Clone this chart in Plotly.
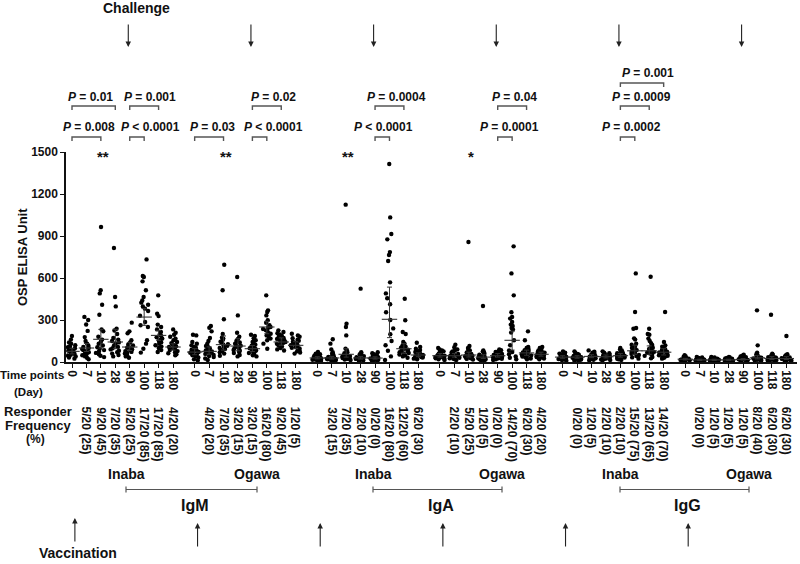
import plotly.graph_objects as go
import numpy as np

# ---------------- data ----------------
days = ["0", "7", "10", "28", "90", "100", "118", "180"]
panels = ["IgM Inaba", "IgM Ogawa", "IgA Inaba", "IgA Ogawa", "IgG Inaba", "IgG Ogawa"]

igm_inaba = [
    [186, 160, 140, 130, 120, 112, 105, 98, 92, 86, 80, 75, 70, 64, 58, 52, 46, 40, 32, 24],
    [322, 300, 268, 222, 178, 150, 130, 118, 108, 100, 92, 85, 78, 70, 62, 55, 48, 40, 30, 20],
    [964, 512, 490, 409, 338, 232, 220, 180, 160, 145, 130, 118, 105, 95, 85, 75, 65, 55, 45, 35],
    [814, 464, 397, 238, 225, 200, 171, 160, 150, 140, 130, 118, 108, 98, 90, 80, 70, 60, 50, 40],
    [281, 219, 205, 155, 140, 125, 118, 110, 102, 96, 90, 84, 78, 72, 66, 60, 54, 48, 40, 30],
    [733, 614, 607, 576, 512, 464, 440, 424, 409, 397, 381, 364, 330, 286, 262, 250, 155, 131, 95, 67],
    [476, 345, 328, 267, 250, 233, 214, 195, 186, 176, 167, 158, 150, 140, 130, 120, 110, 100, 85, 71],
    [233, 209, 195, 180, 167, 155, 143, 135, 128, 120, 113, 107, 100, 93, 86, 78, 70, 62, 55, 48],
]
igm_ogawa = [
    [195, 190, 143, 130, 119, 110, 102, 95, 88, 82, 76, 71, 66, 60, 54, 48, 40, 32, 19, 12],
    [257, 245, 219, 171, 150, 130, 115, 105, 96, 88, 82, 76, 70, 64, 58, 50, 42, 35, 25, 15],
    [695, 512, 305, 200, 175, 167, 155, 145, 136, 128, 124, 116, 108, 100, 92, 85, 78, 70, 60, 45],
    [607, 333, 209, 180, 165, 150, 140, 130, 122, 116, 110, 104, 98, 92, 86, 80, 72, 64, 50, 40],
    [195, 186, 170, 155, 143, 132, 124, 117, 110, 104, 98, 93, 88, 82, 76, 70, 64, 57, 48, 40],
    [476, 369, 357, 333, 298, 280, 262, 250, 243, 236, 226, 214, 206, 202, 190, 180, 167, 155, 131, 95],
    [226, 214, 205, 196, 188, 180, 172, 165, 159, 155, 148, 142, 136, 130, 124, 118, 110, 100, 90, 82],
    [202, 190, 180, 170, 160, 152, 145, 138, 131, 124, 120, 114, 108, 102, 96, 90, 83, 76, 68, 60],
]
iga_inaba = [
    [71, 60, 55, 50, 45, 42, 38, 35, 32, 30, 28, 26, 24, 22, 20, 18, 16, 14, 12, 10],
    [162, 131, 90, 70, 60, 52, 46, 40, 36, 33, 30, 28, 26, 24, 22, 20, 18, 15, 12, 10],
    [1124, 274, 250, 190, 95, 80, 70, 62, 56, 50, 46, 42, 38, 35, 32, 29, 26, 22, 18, 14],
    [524, 70, 62, 55, 50, 45, 42, 38, 35, 32, 30, 28, 26, 24, 22, 20, 18, 15, 12, 10],
    [70, 62, 56, 50, 46, 42, 38, 35, 32, 30, 28, 26, 24, 22, 20, 18, 16, 14, 12, 10],
    [1414, 1033, 914, 876, 785, 764, 721, 569, 490, 455, 412, 355, 300, 240, 198, 150, 120, 80, 40, 15],
    [452, 298, 214, 200, 143, 130, 119, 110, 102, 95, 88, 82, 76, 70, 64, 60, 54, 48, 40, 30],
    [138, 107, 95, 85, 78, 72, 67, 62, 58, 54, 50, 47, 44, 41, 38, 35, 32, 28, 24, 20],
]
iga_ogawa = [
    [100, 90, 82, 76, 70, 64, 59, 55, 51, 48, 45, 42, 39, 36, 33, 30, 27, 24, 20, 15],
    [124, 105, 90, 82, 75, 68, 62, 57, 53, 49, 45, 42, 39, 36, 33, 30, 27, 23, 19, 15],
    [857, 114, 100, 90, 82, 75, 69, 63, 58, 54, 50, 46, 43, 40, 37, 34, 30, 26, 22, 17],
    [400, 83, 76, 70, 64, 58, 53, 49, 45, 41, 38, 35, 32, 29, 26, 23, 20, 17, 14, 11],
    [90, 84, 78, 72, 67, 62, 58, 54, 50, 47, 44, 41, 38, 35, 32, 29, 26, 23, 19, 15],
    [826, 633, 476, 355, 321, 310, 286, 267, 257, 243, 233, 210, 155, 120, 83, 71, 55, 40, 30, 20],
    [219, 155, 107, 100, 92, 85, 79, 73, 68, 63, 59, 55, 51, 47, 43, 39, 35, 30, 25, 20],
    [107, 100, 90, 83, 77, 72, 67, 62, 58, 54, 51, 48, 45, 42, 39, 36, 33, 29, 25, 20],
]
igg_inaba = [
    [76, 67, 60, 55, 50, 46, 42, 39, 36, 33, 31, 29, 27, 25, 23, 21, 19, 17, 14, 11],
    [76, 66, 58, 52, 47, 43, 40, 37, 34, 32, 30, 28, 26, 24, 22, 20, 18, 16, 13, 10],
    [83, 74, 66, 60, 55, 50, 46, 43, 40, 37, 35, 33, 31, 29, 27, 25, 22, 19, 16, 12],
    [76, 67, 62, 57, 52, 48, 45, 42, 39, 36, 34, 32, 30, 28, 26, 24, 21, 18, 15, 12],
    [100, 90, 82, 75, 68, 62, 58, 54, 50, 47, 44, 41, 38, 35, 32, 29, 26, 23, 19, 15],
    [633, 357, 243, 238, 169, 160, 131, 124, 110, 100, 92, 85, 78, 71, 65, 58, 50, 42, 33, 24],
    [609, 238, 200, 195, 167, 150, 135, 122, 112, 102, 94, 86, 79, 72, 66, 60, 52, 44, 35, 26],
    [357, 143, 119, 110, 100, 92, 86, 80, 74, 69, 64, 60, 56, 52, 48, 44, 40, 35, 30, 24],
]
igg_ogawa = [
    [48, 42, 37, 33, 30, 28, 26, 24, 22, 20, 19, 18, 17, 16, 15, 14, 13, 12, 11, 10],
    [36, 32, 29, 26, 24, 22, 20, 19, 18, 17, 16, 15, 14, 13, 12, 11, 10, 9, 8, 7],
    [36, 32, 29, 26, 24, 22, 20, 19, 18, 17, 16, 15, 14, 13, 12, 11, 10, 9, 8, 7],
    [36, 32, 29, 26, 24, 22, 20, 19, 18, 17, 16, 15, 14, 13, 12, 11, 10, 9, 8, 7],
    [52, 45, 40, 35, 32, 29, 27, 25, 23, 21, 20, 19, 18, 17, 16, 15, 14, 12, 10, 8],
    [369, 119, 67, 55, 48, 43, 39, 36, 33, 30, 28, 26, 24, 22, 20, 18, 16, 14, 12, 10],
    [338, 60, 52, 46, 42, 38, 35, 32, 30, 28, 26, 24, 22, 20, 18, 16, 14, 12, 10, 8],
    [186, 55, 48, 43, 39, 36, 33, 31, 29, 27, 25, 23, 21, 19, 17, 15, 13, 11, 9, 7],
]
values = [igm_inaba, igm_ogawa, iga_inaba, iga_ogawa, igg_inaba, igg_ogawa]

# geometric mean with 95% CI
gm_center = [
    [76, 100, 162, 143, 107, 321, 190, 107],
    [71, 76, 124, 114, 95, 250, 143, 119],
    [29, 29, 55, 29, 28, 305, 95, 50],
    [45, 45, 50, 35, 45, 155, 65, 55],
    [35, 35, 40, 38, 45, 80, 80, 70],
    [20, 15, 15, 15, 18, 30, 25, 25],
]
gm_low = [
    [58, 75, 100, 95, 82, 262, 155, 85],
    [52, 56, 85, 80, 75, 202, 120, 95],
    [22, 21, 35, 21, 21, 174, 62, 38],
    [35, 35, 36, 25, 35, 85, 48, 42],
    [27, 27, 31, 29, 35, 55, 55, 50],
    [15, 11, 11, 11, 14, 22, 18, 18],
]
gm_high = [
    [98, 132, 233, 233, 140, 381, 226, 130],
    [95, 108, 186, 167, 118, 290, 172, 145],
    [38, 40, 95, 40, 37, 535, 131, 65],
    [60, 60, 70, 52, 60, 220, 85, 70],
    [45, 45, 52, 50, 60, 120, 115, 95],
    [26, 20, 20, 20, 24, 45, 38, 38],
]

responders = [
    ["5/20 (25)", "9/20 (45)", "7/20 (35)", "5/20 (25)", "17/20 (85)", "17/20 (85)", "4/20 (20)"],
    ["4/20 (20)", "7/20 (35)", "3/20 (15)", "3/20 (15)", "16/20 (80)", "9/20 (45)", "1/20 (5)"],
    ["3/20 (15)", "7/20 (35)", "2/20 (10)", "0/20 (0)", "16/20 (80)", "12/20 (60)", "6/20 (30)"],
    ["2/20 (10)", "5/20 (25)", "1/20 (5)", "0/20 (0)", "14/20 (70)", "6/20 (30)", "4/20 (20)"],
    ["0/20 (0)", "1/20 (5)", "2/20 (10)", "2/20 (10)", "15/20 (75)", "13/20 (65)", "14/20 (70)"],
    ["0/20 (0)", "1/20 (5)", "1/20 (5)", "1/20 (5)", "8/20 (40)", "6/20 (30)", "6/20 (30)"],
]

# (panel, from day index, to day index, level, label)
p_brackets = [
    (0, 0, 3, "mid", "P = 0.01"), (0, 0, 2, "low", "P = 0.008"),
    (0, 4, 6, "mid", "P = 0.001"), (0, 4, 5, "low", "P < 0.0001"),
    (1, 0, 2, "low", "P = 0.03"),
    (1, 4, 6, "mid", "P = 0.02"), (1, 4, 5, "low", "P < 0.0001"),
    (2, 4, 6, "mid", "P = 0.0004"), (2, 4, 5, "low", "P < 0.0001"),
    (3, 4, 6, "mid", "P = 0.04"), (3, 4, 5, "low", "P = 0.0001"),
    (4, 4, 5, "low", "P = 0.0002"), (4, 4, 6, "mid", "P = 0.0009"), (4, 4, 7, "top", "P = 0.001"),
]
p_label_px = [90.5, 88.5, 150, 150.5, 212, 273.5, 273, 396.5, 383.5, 514.7, 509.7, 631.7, 641.2, 647.5]
stars = [(0, 2, "**"), (1, 2, "**"), (2, 2, "**"), (3, 2, "*")]
isotypes = ["IgM", "IgA", "IgG"]

# ---------------- geometry helpers ----------------
W, H = 800, 564
ML, MR, MT, MB = 66, 3, 152, 202
PW, PH = W - ML - MR, H - MT - MB
GROUP_STEP = 8.5
XR = [-0.416, 50.24]


def pos(g, j):
    return g * GROUP_STEP + j


def px2p(px):
    return (px - ML) / PW


def py2p(py):
    return (H - MB - py) / PH


FONT = "Liberation Sans, Arial, sans-serif"
BLACK = "#111111"

fig = go.Figure()

# dots
xs, ys = [], []
for g, panel in enumerate(values):
    for j, col in enumerate(panel):
        xs += [pos(g, j)] * len(col)
        ys += col
fig.add_trace(go.Box(
    x=xs, y=ys, boxpoints="all", jitter=1, pointpos=0, width=0.7,
    fillcolor="rgba(0,0,0,0)", line=dict(width=0, color="rgba(0,0,0,0)"),
    whiskerwidth=0, marker=dict(color="black", size=4.4), showlegend=False,
    hoverinfo="y",
))

# geometric mean + 95% CI
cx, cy, up, dn = [], [], [], []
for g in range(6):
    for j in range(8):
        cx.append(pos(g, j))
        cy.append(gm_center[g][j])
        up.append(gm_high[g][j] - gm_center[g][j])
        dn.append(gm_center[g][j] - gm_low[g][j])
fig.add_trace(go.Scatter(
    x=cx, y=cy, mode="markers", showlegend=False,
    marker=dict(symbol="line-ew", size=11, color="#333", line=dict(width=1.1, color="#333")),
    error_y=dict(type="data", symmetric=False, array=up, arrayminus=dn,
                 color="#333", thickness=1, width=2.5),
))

tickvals = [pos(g, j) for g in range(6) for j in range(8)]
ticktext = days * 6

annotations = []
shapes = []


def text(x, y, s, size=12, xref="paper", yref="paper", xanchor="center", yanchor="middle",
         angle=0, bold=True, align="center"):
    annotations.append(dict(
        x=x, y=y, xref=xref, yref=yref, text=s, showarrow=False, xanchor=xanchor,
        yanchor=yanchor, textangle=angle, align=align,
        font=dict(family=FONT, size=size, color=BLACK, weight="bold" if bold else "normal"),
    ))


# y-axis title
text(px2p(22), py2p(257), "OSP ELISA Unit", size=13, angle=-90)

# responder frequencies (rotated)
for g in range(6):
    for k, s in enumerate(responders[g]):
        text(pos(g, k + 1), py2p(405), s, size=12, xref="x", yanchor="top", angle=90)

# left labels
text(px2p(32), py2p(375), "Time points", size=11.5)
text(px2p(28), py2p(392), "(Day)", size=11.5)
text(px2p(38), py2p(411), "Responder", size=13)
text(px2p(38), py2p(425), "Frequency", size=13)
text(px2p(35), py2p(439), "(%)", size=12)

# P-value brackets
lvl_line = {"low": 137, "mid": 106, "top": 83}
lvl_text = {"low": 127, "mid": 97, "top": 73}
for (g, a, b, lvl, lab), lpx in zip(p_brackets, p_label_px):
    y0 = py2p(lvl_line[lvl])
    y1 = py2p(lvl_line[lvl] + 4)
    x0, x1 = pos(g, a), pos(g, b)
    shapes.append(dict(type="path", xref="x", yref="paper",
                       path=f"M {x0},{y1} L {x0},{y0} L {x1},{y0} L {x1},{y1}",
                       line=dict(color="#555", width=1.4)))
    text(px2p(lpx), py2p(lvl_text[lvl]), lab.replace("P", "<i>P</i>", 1), size=12)

for g, j, s in stars:
    text(pos(g, j) + 0.15, py2p(156), s, size=15, xref="x")

# challenge arrows (day 90) and label
text(px2p(136), py2p(8), "Challenge", size=14)
for g in range(6):
    annotations.append(dict(
        x=pos(g, 4) - 0.1, y=py2p(47), xref="x", yref="paper", text="", showarrow=True,
        ax=0, ay=-24, arrowhead=2, arrowsize=1, arrowwidth=1.1, arrowcolor="#222",
    ))

# vaccination arrows (day 0) and label
for g in range(6):
    tip = 518 if g == 0 else 523
    annotations.append(dict(
        x=pos(g, 0) + 0.2, y=py2p(tip), xref="x", yref="paper", text="", showarrow=True,
        ax=0, ay=25, arrowhead=2, arrowsize=1, arrowwidth=1.1, arrowcolor="#222",
    ))
text(px2p(78), py2p(553), "Vaccination", size=14)

# isotype blocks
for k, iso in enumerate(isotypes):
    inaba_px = [126, 373, 620][k]
    ogawa_px = [257, 502, 749][k]
    text(px2p(inaba_px), py2p(474), "Inaba", size=14)
    text(px2p(ogawa_px), py2p(474), "Ogawa", size=14)
    ya, yb, yc = py2p(489.5), py2p(486.5), py2p(492.5)
    xa, xb = px2p(inaba_px), px2p(ogawa_px)
    shapes.append(dict(type="line", xref="paper", yref="paper", x0=xa, x1=xb, y0=ya, y1=ya,
                       line=dict(color="#555", width=1.2)))
    for xx in (xa, xb):
        shapes.append(dict(type="line", xref="paper", yref="paper", x0=xx, x1=xx, y0=yb, y1=yc,
                           line=dict(color="#555", width=1.2)))
    text((xa + xb) / 2 + 3 / PW, py2p(505), iso, size=16)

fig.update_layout(
    width=W, height=H, margin=dict(l=ML, r=MR, t=MT, b=MB, pad=0, autoexpand=False),
    plot_bgcolor="white", paper_bgcolor="white",
    font=dict(family=FONT, color=BLACK),
    showlegend=False,
    xaxis=dict(range=XR, tickmode="array", tickvals=tickvals, ticktext=ticktext, automargin=False,
               tickangle=90, ticks="outside", ticklen=4, tickwidth=1.3, tickcolor=BLACK,
               showline=True, linecolor=BLACK, linewidth=1.5, showgrid=False, zeroline=False,
               tickfont=dict(family=FONT, size=12, color=BLACK, weight="bold")),
    yaxis=dict(range=[0, 1500], tickvals=[0, 300, 600, 900, 1200, 1500], automargin=False,
               ticks="outside", ticklen=4, tickwidth=1.3, tickcolor=BLACK,
               showline=True, linecolor=BLACK, linewidth=1.5, showgrid=False, zeroline=False,
               tickfont=dict(family=FONT, size=12, color=BLACK, weight="bold")),
    annotations=annotations, shapes=shapes,
)

fig.write_html(
    "out.html",
    config={"displayModeBar": False},
    post_script="document.body.style.margin='0';document.body.style.overflow='hidden';",
)
